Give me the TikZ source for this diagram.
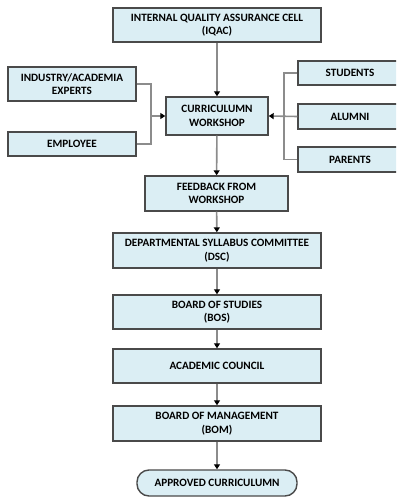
\documentclass[tikz,border=0pt]{standalone}
\usepackage{fontspec}
\setmainfont{Carlito}
\usetikzlibrary{arrows.meta}
\definecolor{boxfill}{HTML}{DBEEF4}
\definecolor{boxline}{HTML}{4A4A4A}
\definecolor{conn}{HTML}{8C8C8C}
\tikzset{
  bx/.style={draw=boxline, line width=1.4pt, fill=boxfill, align=center,
    inner sep=0pt, font=\fontsize{11.2}{13.5}\selectfont\bfseries},
  ln/.style={draw=conn, line width=1.6pt},
  arr/.style={ln, -{Triangle[length=5pt,width=6pt,color=black]}}
}
\begin{document}
\begin{tikzpicture}[x=1pt,y=-1pt]
\useasboundingbox (0,0) rectangle (396,497);
\clip (0,0) rectangle (396,497);
\node[bx, minimum width=208pt, minimum height=34pt] (iqac) at (217,25) {INTERNAL QUALITY ASSURANCE CELL\\(IQAC)};
\node[bx, minimum width=128pt, minimum height=34pt] (ind) at (72,84) {INDUSTRY/ACADEMIA\\EXPERTS};
\node[bx, minimum width=128pt, minimum height=24pt] (emp) at (72,144) {EMPLOYEE};
\node[bx, minimum width=102pt, minimum height=38pt] (cw) at (217,116) {CURRICULUMN\\WORKSHOP};
\node[bx, minimum width=104pt, minimum height=24pt] (stu) at (350,73) {STUDENTS};
\node[bx, minimum width=104pt, minimum height=25pt] (alu) at (350,116.5) {ALUMNI};
\node[bx, minimum width=104pt, minimum height=25pt] (par) at (350,159.5) {PARENTS};
\node[bx, minimum width=143pt, minimum height=35pt] (fb) at (216.5,193.5) {FEEDBACK FROM\\WORKSHOP};
\node[bx, minimum width=208pt, minimum height=35pt] (dsc) at (217,250.5) {DEPARTMENTAL SYLLABUS COMMITTEE\\(DSC)};
\node[bx, minimum width=208pt, minimum height=34pt] (bos) at (217,312) {BOARD OF STUDIES\\(BOS)};
\node[bx, minimum width=208pt, minimum height=34pt] (ac) at (217,366) {ACADEMIC COUNCIL};
\node[bx, minimum width=208pt, minimum height=35pt] (bom) at (217,423.5) {BOARD OF MANAGEMENT\\(BOM)};
\node[bx, minimum width=160pt, minimum height=26pt, rounded corners=12pt] (app) at (217,483) {APPROVED CURRICULUMN};
\coordinate (lj) at (151,116);
\coordinate (rj) at (284,116);
\draw[arr] (iqac) -- (cw);
\draw[arr] (cw) -- (fb);
\draw[arr] (fb) -- (dsc);
\draw[arr] (dsc) -- (bos);
\draw[arr] (bos) -- (ac);
\draw[arr] (ac) -- (bom);
\draw[arr] (bom) -- (app);
\draw[ln] (ind.east) -| (lj) |- (emp.east);
\draw[arr] (lj) -- (cw.west);
\draw[ln] (stu.west) -| (rj) |- (par.west);
\draw[arr] (alu.west) -- (cw.east);
\end{tikzpicture}
\end{document}
